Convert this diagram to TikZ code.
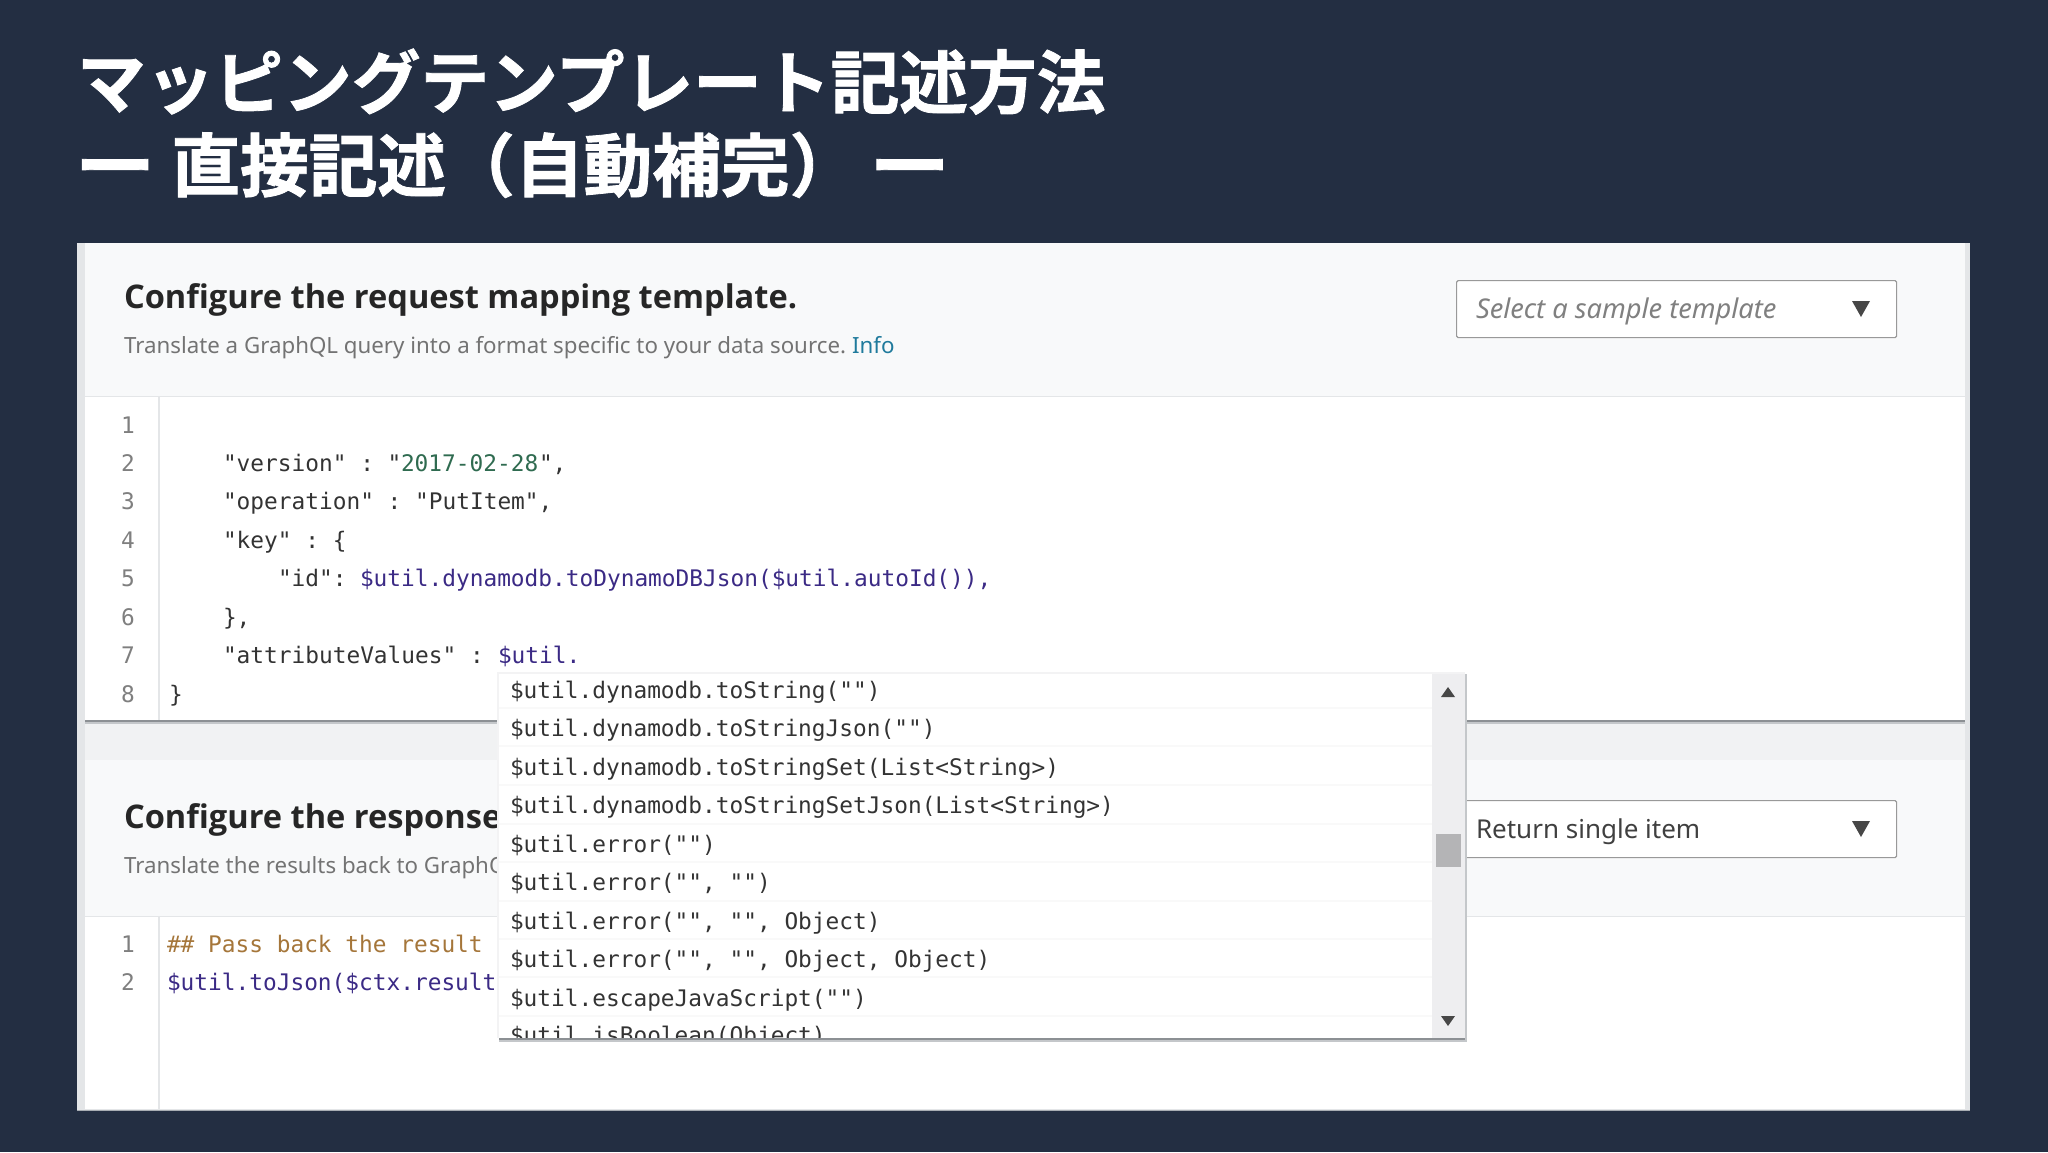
\documentclass[tikz,border=0pt]{standalone}
\usepackage{graphicx}
\usepackage{fontspec}
\newfontfamily\cjk{Noto Sans CJK JP}[BoldFont={Noto Sans CJK JP Bold},BoldFeatures={FakeBold=1.2}]
\newfontfamily\headfont{Open Sans}
\setmainfont{Noto Sans}
\setmonofont{DejaVu Sans Mono}
\newcommand{\longbar}{\scalebox{1.17}[1]{ー}}
\definecolor{bgdark}{HTML}{232E42}
\definecolor{panelgray}{HTML}{F8F9FA}
\definecolor{gapgray}{HTML}{F1F2F3}
\definecolor{edgegray}{HTML}{E4E6E8}
\definecolor{shadowgray}{HTML}{8C9094}
\definecolor{softshadow}{HTML}{C4C7CA}
\definecolor{bottomline}{HTML}{A8ADB3}
\definecolor{codeblack}{HTML}{333333}
\definecolor{numgray}{HTML}{7F7F7F}
\definecolor{purplecode}{HTML}{3B2A85}
\definecolor{greencode}{HTML}{2F6B50}
\definecolor{commentcode}{HTML}{A5763A}
\definecolor{infoblue}{HTML}{1F7A9C}
\definecolor{scrolltrack}{HTML}{EEEEF0}
\definecolor{scrollthumb}{HTML}{B4B4B6}
\definecolor{rowline}{HTML}{F9F9F9}
\definecolor{orangeedge}{HTML}{D9962B}
\tikzset{
  txt/.style={anchor=base west,inner sep=0pt,outer sep=0pt},
  titletxt/.style={txt,text=white,font=\cjk\bfseries\fontsize{68.7}{68.7}\selectfont},
  headtxt/.style={txt,text=black!85,font=\headfont\bfseries\fontsize{32.6}{32.6}\selectfont},
  subtxt/.style={txt,text=black!55,font=\fontsize{22.3}{22.3}\selectfont},
  codetxt/.style={txt,text=codeblack,font=\ttfamily\fontsize{22.8}{22.8}\selectfont},
  numtxt/.style={anchor=base,inner sep=0pt,text=numgray,font=\ttfamily\fontsize{22.8}{22.8}\selectfont},
  droptxt/.style={txt,font=\fontsize{26}{26}\selectfont},
  dropbox/.style={draw=black!40,line width=1.2pt,fill=white,rounded corners=1.5pt},
  tri/.style={fill=black!72,draw=none}
}
\begin{document}
\begin{tikzpicture}[x=1pt,y=-1pt]
\useasboundingbox (0,0) rectangle (2048,1152);
\fill[bgdark] (0,0) rectangle (2048,1152);
% title
\node[titletxt] (t1) at (77,108) {マッピングテンプレート記述方法};
\node[titletxt] (t2) at (75,191) {\longbar\hspace*{16pt}直接記述（自動補完）\hspace*{11pt}\longbar};
% orange remnant
\fill[orangeedge] (1848,1110) arc[start angle=180,end angle=360,x radius=15,y radius=3.5];
% panel
\fill[edgegray] (77,243) rectangle (1970,1111);
\fill[panelgray] (85,243) rectangle (1965,396);
\fill[white] (85,397) rectangle (1965,720);
\draw[edgegray,line width=1.5pt] (85,396.5) -- (1965,396.5);
\fill[gapgray] (85,722) rectangle (1965,760);
\draw[softshadow,line width=2pt] (85,723) -- (1965,723);
\draw[shadowgray,line width=2pt] (85,721) -- (1965,721);
\fill[panelgray] (85,760) rectangle (1965,916);
\fill[white] (85,917) rectangle (1965,1109);
\draw[edgegray,line width=1.5pt] (85,916.5) -- (1965,916.5);
\draw[edgegray,line width=1.2pt] (159,397) -- (159,720);
\draw[edgegray,line width=1.2pt] (159,917) -- (159,1109);
\draw[bottomline,line width=1.5pt] (77,1110.5) -- (1970,1110.5);
% heading 1
\node[headtxt] (h1) at (124,308) {Configure the request mapping template.};
\node[subtxt] (s1) at (124,353) {Translate a GraphQL query into a format specific to your data source.};
\node[subtxt,text=infoblue] (s1i) at (852,353) {Info};
% dropdown 1
\node[dropbox,minimum width=440pt,minimum height=57pt,anchor=north west,inner sep=0pt] (d1) at (1456,280) {};
\node[droptxt,text=black!50,font=\itshape\fontsize{27.2}{27.2}\selectfont] (d1t) at (1476,318) {Select a sample template};
\fill[tri] (1852,301) -- (1870,301) -- (1861,317) -- cycle;
% code 1
\foreach \n/\y in {1/433,2/471,3/509,4/548,5/586,6/625,7/663,8/702}
  \node[numtxt] (n\n) at (128,\y) {\n};
\node[codetxt] (c2a) at (223,471) {"version" : "};
\node[codetxt,text=greencode] (c2b) at (401,471) {2017-02-28};
\node[codetxt] (c2c) at (539,471) {",};
\node[codetxt] (c3) at (223,509) {"operation" : "PutItem",};
\node[codetxt] (c4) at (223,548) {"key" : \{};
\node[codetxt] (c5a) at (278,586) {"id":};
\node[codetxt,text=purplecode] (c5b) at (360,586) {\$util.dynamodb.toDynamoDBJson(\$util.autoId()),};
\node[codetxt] (c6) at (223,625) {\},};
\node[codetxt] (c7a) at (223,663) {"attributeValues" :};
\node[codetxt,text=purplecode] (c7b) at (498,663) {\$util.};
\node[codetxt] (c8) at (169,702) {\}};
% heading 2
\node[headtxt] (h2) at (124,828) {Configure the response};
\node[subtxt] (s2) at (124,873) {Translate the results back to GraphQ};
% dropdown 2
\node[dropbox,minimum width=440pt,minimum height=57pt,anchor=north west,inner sep=0pt] (d2) at (1456,800) {};
\node[droptxt,text=black!75] (d2t) at (1476,838) {Return single item};
\fill[tri] (1852,821) -- (1870,821) -- (1861,837) -- cycle;
% code 2
\node[numtxt] (m1) at (128,952) {1};
\node[numtxt] (m2) at (128,990) {2};
\node[codetxt,text=commentcode] (e1) at (167,952) {\#\# Pass back the result};
\node[codetxt,text=purplecode] (e2) at (167,990) {\$util.toJson(\$ctx.result};
% popup
\fill[softshadow] (499,1037) rectangle (1466.5,1041.5);
\fill[softshadow] (1465,674) rectangle (1466.5,1041.5);
\fill[shadowgray] (499,1037.5) rectangle (1465,1039.5);
\fill[rowline!70!edgegray] (497,672) rectangle (1465,1038);
\fill[white] (499,674) rectangle (1465,1038);
\foreach \y in {708,746,785,824,862,901,939,977,1016}
  \draw[rowline,line width=1.2pt] (499,\y) -- (1432,\y);
\fill[scrolltrack] (1432,674) rectangle (1465,1038);
\fill[scrollthumb] (1436,834) rectangle (1461,867);
\fill[tri] (1441,697) -- (1455,697) -- (1448,687) -- cycle;
\fill[tri] (1441,1016) -- (1455,1016) -- (1448,1026) -- cycle;
\node[codetxt] (p1) at (510,698) {\$util.dynamodb.toString("")};
\node[codetxt] (p2) at (510,736) {\$util.dynamodb.toStringJson("")};
\node[codetxt] (p3) at (510,775) {\$util.dynamodb.toStringSet(List<String>)};
\node[codetxt] (p4) at (510,813) {\$util.dynamodb.toStringSetJson(List<String>)};
\node[codetxt] (p5) at (510,852) {\$util.error("")};
\node[codetxt] (p6) at (510,890) {\$util.error("", "")};
\node[codetxt] (p7) at (510,929) {\$util.error("", "", Object)};
\node[codetxt] (p8) at (510,967) {\$util.error("", "", Object, Object)};
\node[codetxt] (p9) at (510,1006) {\$util.escapeJavaScript("")};
\begin{scope}
\clip (499,1016) rectangle (1432,1037);
\node[codetxt] (p10) at (510,1043) {\$util.isBoolean(Object)};
\end{scope}
\end{tikzpicture}
\end{document}
